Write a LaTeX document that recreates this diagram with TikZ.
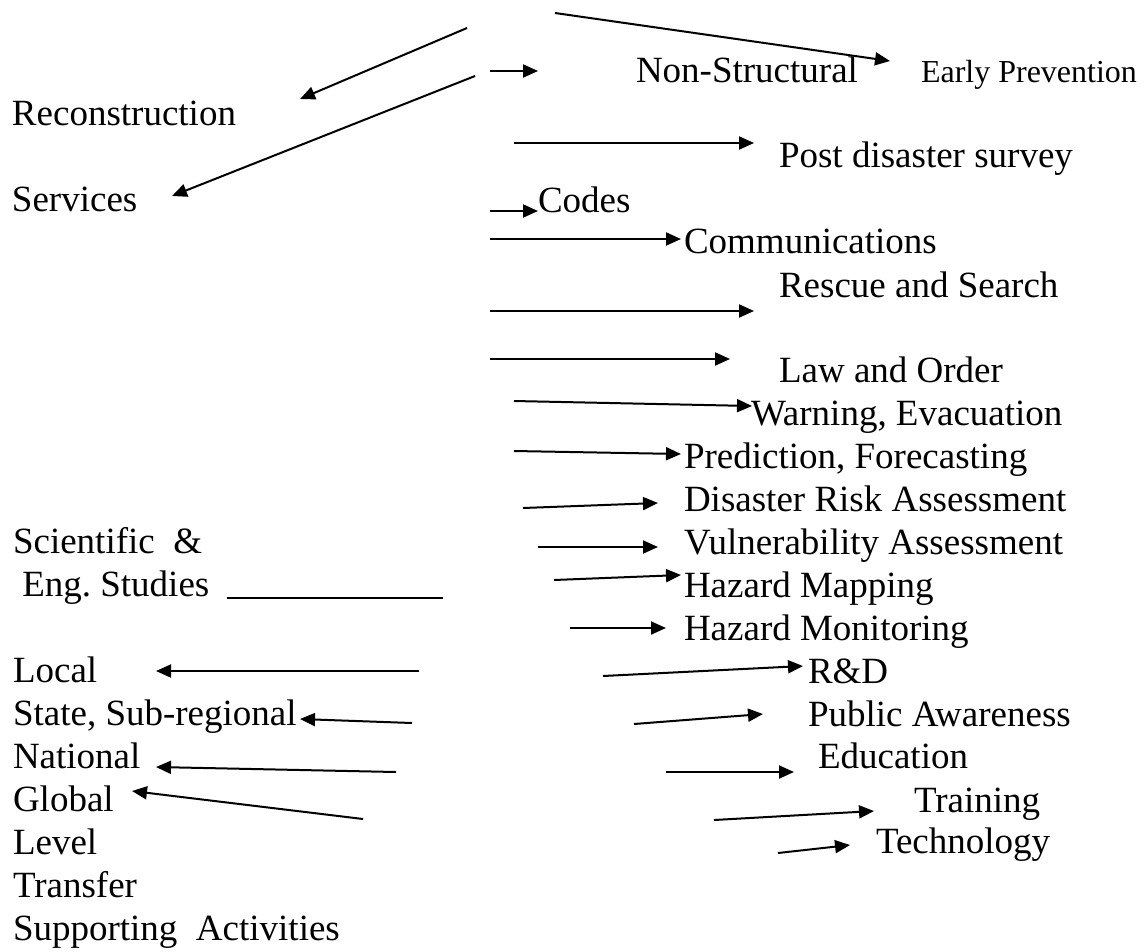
\documentclass[tikz,border=0pt]{standalone}
\usepackage{fontspec}
\setmainfont{Liberation Serif}
\usetikzlibrary{arrows.meta}
\usetikzlibrary{positioning}
\tikzset{
	x=1pt, y=-1pt,
	node distance=43pt,
	every path/.style = {line width=2pt},
	every node/.style = {inner sep=0pt, anchor=base west, font=\fontsize{37}{43}\selectfont},
	arr/.style = {-{Triangle[length=15pt,width=13pt]}},
	next/.style = {below=of #1.base west, anchor=base west}
}
\frenchspacing
\begin{document}
\begin{tikzpicture}
	\useasboundingbox (0,0) rectangle (1145,951);
	% labels
	\node (nonstruct) at (635,82) {Non-Structural};
	\node (early) at (920,82) [font=\fontsize{32}{38}\selectfont] {Early Prevention};
	\node (recon) at (11,125) {Reconstruction};
	\node (services) at (11,211) {Services};
	\node (post) at (778,167) {Post disaster survey};
	\node (codes) at (537,212) {Codes};
	\node (comm) at (683,253) {Communications};
	\node (rescue) at (778,297) {Rescue and Search};
	\node (law) at (778,382) {Law and Order};
	\node (warning) at (750,425) {Warning, Evacuation};
	\node (predict) at (683,468) {Prediction, Forecasting};
	\node (risk) [next=predict] {Disaster Risk Assessment};
	\node (vuln) [next=risk] {Vulnerability Assessment};
	\node (hazmap) [next=vuln] {Hazard Mapping};
	\node (hazmon) [next=hazmap] {Hazard Monitoring};
	\node (rd) at (807,683) {R\&D};
	\node (public) [next=rd] {Public Awareness};
	\node (edu) at (817,768) {Education};
	\node (training) at (913,812) {Training};
	\node (tech) at (875,853) {Technology};
	\node (sci) at (12,553) {Scientific\ \ \&};
	\node (eng) [next=sci] {\ Eng. Studies};
	\node (local) [below=86pt of eng.base west, anchor=base west] {Local};
	\node (state) [next=local] {State, Sub-regional};
	\node (national) [next=state] {National};
	\node (global) [next=national] {Global};
	\node (level) [next=global] {Level};
	\node (transfer) [next=level] {Transfer};
	\node (support) [next=transfer] {Supporting\ \ Activities};
	% arrow ends
	\coordinate (t1) at (555,13);  \coordinate (h1) at (890,61);
	\coordinate (t2) at (467,28);  \coordinate (h2) at (300,99);
	\coordinate (t3) at (475,76);  \coordinate (h3) at (172,196);
	\coordinate (t4) at (490,71);  \coordinate (h4) at (538,71);
	\coordinate (t5) at (514,143); \coordinate (h5) at (754,143);
	\coordinate (t6) at (490,211); \coordinate (h6) at (538,211);
	\coordinate (t7) at (490,239); \coordinate (h7) at (681,239);
	\coordinate (t8) at (490,311); \coordinate (h8) at (754,311);
	\coordinate (t9) at (490,359); \coordinate (h9) at (730,359);
	\coordinate (t10) at (514,401); \coordinate (h10) at (752,406);
	\coordinate (t11) at (514,451); \coordinate (h11) at (681,454);
	\coordinate (t12) at (523,508); \coordinate (h12) at (658,503);
	\coordinate (t13) at (538,547); \coordinate (h13) at (658,547);
	\coordinate (t14) at (554,580); \coordinate (h14) at (681,575);
	\coordinate (t15) at (570,628); \coordinate (h15) at (666,628);
	\coordinate (t16) at (603,676); \coordinate (h16) at (803,666);
	\coordinate (t17) at (634,724); \coordinate (h17) at (763,714);
	\coordinate (t18) at (666,772); \coordinate (h18) at (794,772);
	\coordinate (t19) at (714,820); \coordinate (h19) at (874,811);
	\coordinate (t20) at (778,853); \coordinate (h20) at (850,845);
	\coordinate (t21) at (419,671); \coordinate (h21) at (156,671);
	\coordinate (t22) at (412,723); \coordinate (h22) at (300,719);
	\coordinate (t23) at (396,772); \coordinate (h23) at (156,767);
	\coordinate (t24) at (363,819); \coordinate (h24) at (132,791);
	\coordinate (u1) at (227,598); \coordinate (u2) at (443,598);
	% arrows
	\draw[arr] (t1) -- (h1);
	\draw[arr] (t2) -- (h2);
	\draw[arr] (t3) -- (h3);
	\draw[arr] (t4) -- (h4);
	\draw[arr] (t5) -- (h5);
	\draw[arr] (t6) -- (h6);
	\draw[arr] (t7) -- (h7);
	\draw[arr] (t8) -- (h8);
	\draw[arr] (t9) -- (h9);
	\draw[arr] (t10) -- (h10);
	\draw[arr] (t11) -- (h11);
	\draw[arr] (t12) -- (h12);
	\draw[arr] (t13) -- (h13);
	\draw[arr] (t14) -- (h14);
	\draw[arr] (t15) -- (h15);
	\draw[arr] (t16) -- (h16);
	\draw[arr] (t17) -- (h17);
	\draw[arr] (t18) -- (h18);
	\draw[arr] (t19) -- (h19);
	\draw[arr] (t20) -- (h20);
	\draw[arr] (t21) -- (h21);
	\draw[arr] (t22) -- (h22);
	\draw[arr] (t23) -- (h23);
	\draw[arr] (t24) -- (h24);
	\draw (u1) -- (u2);
\end{tikzpicture}
\end{document}
